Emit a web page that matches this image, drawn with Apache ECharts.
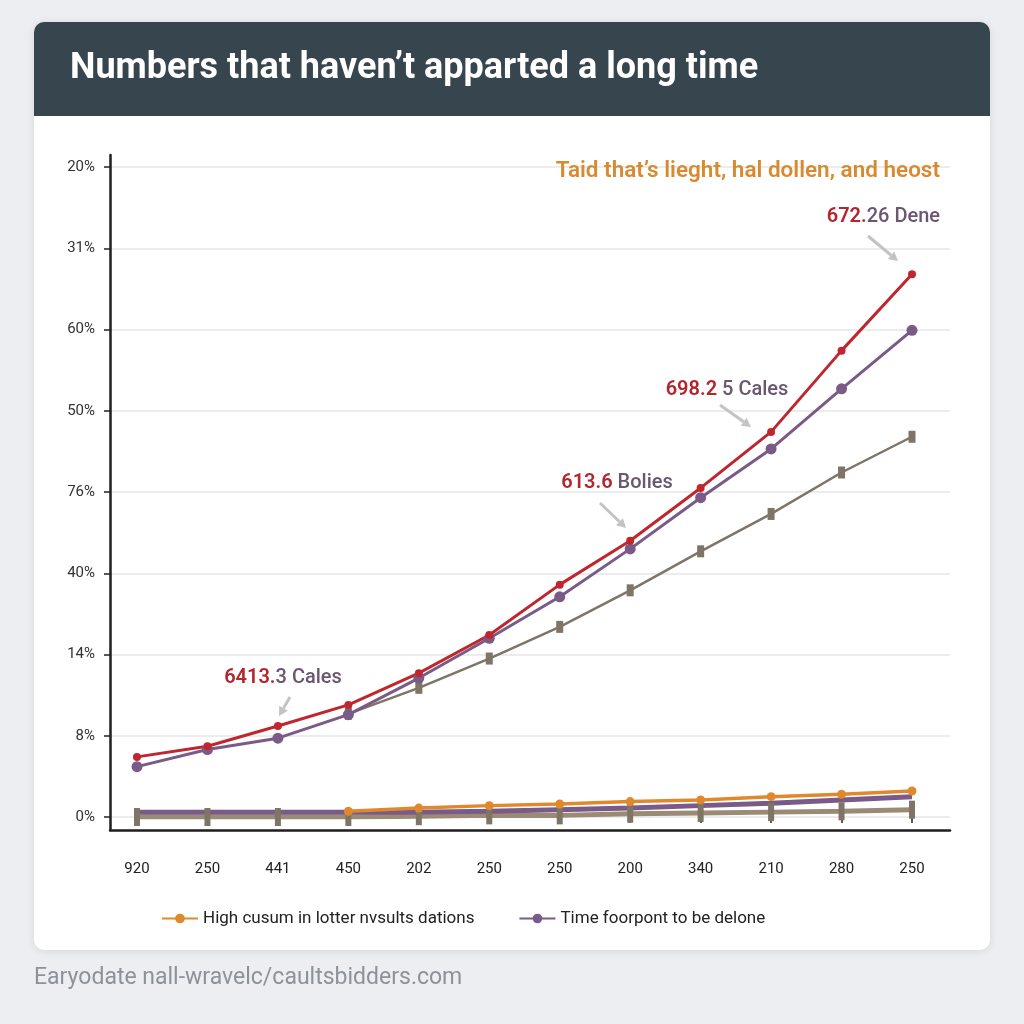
<!DOCTYPE html>
<html>
<head>
<meta charset="utf-8">
<script src="https://cdn.jsdelivr.net/npm/echarts@6/dist/echarts.min.js"></script>
<style>
html,body{margin:0;padding:0;background:#eceef2;}
#chart{width:1024px;height:1024px;}
</style>
</head>
<body>
<div id="chart"></div>
<script>
// ---- data ----
const categories = ['920','250','441','450','202','250','250','200','340','210','280','250'];
const yTickLabels = ['0%','8%','14%','40%','76%','50%','60%','31%','20%'];
const redUpper    = [0.74,0.87,1.12,1.38,1.77,2.24,2.86,3.40,4.05,4.74,5.74,6.68];
const purpleUpper = [0.62,0.83,0.97,1.26,1.71,2.20,2.71,3.30,3.93,4.53,5.27,5.99];
const tanUpper    = [null,null,null,1.27,1.59,1.95,2.34,2.79,3.27,3.73,4.24,4.68];
const orangeLow   = [null,null,null,0.07,0.11,0.14,0.16,0.19,0.21,0.25,0.28,0.32];
const purpleLow   = [0.06,0.06,0.06,0.06,0.06,0.07,0.09,0.11,0.14,0.17,0.21,0.25];
const tanLow      = [0.00,0.00,0.00,0.00,0.01,0.02,0.02,0.04,0.05,0.06,0.07,0.09];
const legendNames = ['High cusum in lotter nvsults dations','Time foorpont to be delone'];
const titleText = 'Numbers that haven\u2019t apparted a long time';
const subtitleText = 'Taid that\u2019s lieght, hal dollen, and heost';
const footerText = 'Earyodate nall-wravelc/caultsbidders.com';

const RED = '#c0262e', PURPLE = '#7a5a87', TAN = '#8c7f6c', ORANGE = '#e0892c';
const FONT = 'Roboto, "Noto Sans", sans-serif';

function arrow(x1, y1, x2, y2) {
  const dx = x2 - x1, dy = y2 - y1, len = Math.hypot(dx, dy);
  const ux = dx / len, uy = dy / len, hl = 9, hw = 5;
  const bx = x2 - ux * hl, by = y2 - uy * hl;
  return [
    { type: 'line', shape: { x1: x1, y1: y1, x2: bx, y2: by }, style: { stroke: '#c3c3c3', lineWidth: 3 }, z: 20 },
    { type: 'polygon', shape: { points: [[x2, y2], [bx - uy * hw, by + ux * hw], [bx + uy * hw, by - ux * hw]] }, style: { fill: '#c3c3c3' }, z: 20 }
  ];
}
function annot(x, y, red, rest, align) {
  return {
    type: 'text', x: x, y: y, z: 20,
    style: {
      text: '{r|' + red + '}{p|' + rest + '}', align: align, verticalAlign: 'middle',
      rich: {
        r: { fill: '#b3262e', font: '600 20px ' + FONT },
        p: { fill: '#6a5670', font: '500 20px ' + FONT }
      }
    }
  };
}

const chart = echarts.init(document.getElementById('chart'));
const option = {
  backgroundColor: '#eceef2',
  animation: false,
  graphic: [
    { type: 'rect', shape: { x: 34, y: 22, width: 956, height: 928, r: 10 }, style: { fill: '#ffffff', shadowBlur: 8, shadowColor: 'rgba(0,0,0,0.10)', shadowOffsetY: 1 }, z: -10 },
    { type: 'rect', shape: { x: 34, y: 22, width: 956, height: 94, r: [10, 10, 0, 0] }, style: { fill: '#37454f' }, z: -9 },
    { type: 'text', x: 70, y: 69, style: { text: titleText, fill: '#ffffff', font: 'bold 36px ' + FONT, verticalAlign: 'middle' }, z: 5 },
    { type: 'text', x: 940, y: 171, style: { text: subtitleText, fill: '#d98a30', font: '600 22.5px ' + FONT, align: 'right', verticalAlign: 'middle' }, z: 20 },
    annot(940, 217, '672.', '26 Dene', 'right'),
    annot(727, 390, '698.2', ' 5 Cales', 'center'),
    annot(617, 483, '613.6', ' Bolies', 'center'),
    annot(283, 678, '6413.', '3 Cales', 'center'),
    ...arrow(868, 236, 898, 261),
    ...arrow(720, 405, 751, 427),
    ...arrow(600, 503, 626, 528),
    ...arrow(290, 697, 279, 716),
    { type: 'text', x: 34, y: 978, style: { text: footerText, fill: '#8d9298', font: '23px ' + FONT, verticalAlign: 'middle' }, z: 5 }
  ],
  legend: {
    data: legendNames,
    left: 156, top: 905,
    itemWidth: 36, itemHeight: 12, itemGap: 44,
    textStyle: { color: '#222', fontSize: 17, fontFamily: FONT }
  },
  grid: [
    { left: 137, right: 112, top: 167, bottom: 207 },
    { left: 110, right: 74, top: 167, bottom: 207 },
    { left: 110, right: 74, top: 155, bottom: 194 }
  ],
  xAxis: [
    {
      gridIndex: 0, type: 'category', data: categories, boundaryGap: false, offset: 26,
      axisLine: { show: false },
      axisTick: { show: true, length: 6, lineStyle: { color: '#222', width: 1.5 } },
      axisLabel: { color: '#222', fontSize: 15, margin: 19, fontFamily: FONT },
      splitLine: { show: false }
    },
    { gridIndex: 1, type: 'value', min: 0, max: 1, show: false },
    {
      gridIndex: 2, type: 'value', min: 0, max: 1, interval: 1,
      axisLine: { show: true, lineStyle: { color: '#1e1e1e', width: 2.5 } },
      axisTick: { show: false }, axisLabel: { show: false }, splitLine: { show: false }
    }
  ],
  yAxis: [
    { gridIndex: 0, type: 'value', min: 0, max: 8, interval: 1, show: false },
    {
      gridIndex: 1, type: 'value', min: 0, max: 8, interval: 1,
      axisLine: { show: false },
      axisTick: { show: true, length: 6, lineStyle: { color: '#222', width: 1.5 } },
      axisLabel: { color: '#333', fontSize: 15, margin: 15, fontFamily: FONT, formatter: (v) => yTickLabels[Math.round(v)] },
      splitLine: { show: true, lineStyle: { color: '#ececec', width: 2 } }
    },
    {
      gridIndex: 2, type: 'value', min: 0, max: 1, interval: 1,
      axisLine: { show: true, lineStyle: { color: '#1e1e1e', width: 2.5 } },
      axisTick: { show: false }, axisLabel: { show: false }, splitLine: { show: false }
    }
  ],
  series: [
    { name: 'base tan', type: 'line', data: tanLow, color: TAN, symbol: 'rect', symbolSize: [6, 18], showSymbol: true, lineStyle: { width: 5, color: '#9b8b74' }, itemStyle: { color: '#7f7566' } },
    { name: legendNames[1] + ' ', type: 'line', data: purpleLow, color: PURPLE, symbol: 'none', lineStyle: { width: 5 } },
    { name: legendNames[0], type: 'line', data: orangeLow, color: ORANGE, symbol: 'circle', symbolSize: 9, lineStyle: { width: 3.5 } },
    { name: 'Bolies', type: 'line', data: tanUpper, color: TAN, symbol: 'rect', symbolSize: [7, 12], lineStyle: { width: 2.5 }, itemStyle: { color: '#7f7566' } },
    { name: legendNames[1], type: 'line', data: purpleUpper, color: PURPLE, symbol: 'circle', symbolSize: 11, lineStyle: { width: 3 } },
    { name: 'Cales', type: 'line', data: redUpper, color: RED, symbol: 'circle', symbolSize: 8, lineStyle: { width: 3 } }
  ]
};
chart.setOption(option);
</script>
</body>
</html>
